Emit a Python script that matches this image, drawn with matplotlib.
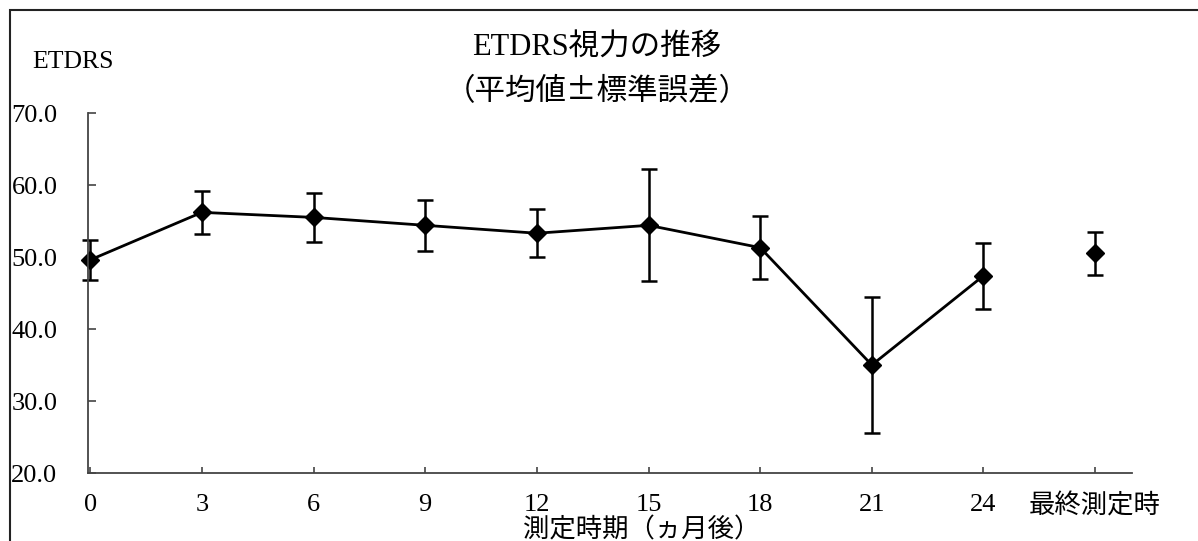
import matplotlib
matplotlib.use('Agg')
import matplotlib.pyplot as plt
from matplotlib.patches import Rectangle

plt.rcParams.update({
    'font.family': ['Liberation Serif', 'Noto Sans CJK JP'],
    'font.size': 19,
})

# Data (mean +/- SE)
labels = ['0', '3', '6', '9', '12', '15', '18', '21', '24', '最終測定時']
means = [49.6, 56.2, 55.5, 54.4, 53.3, 54.4, 51.3, 35.0, 47.4, 50.5]
errors = [2.75, 3.0, 3.4, 3.5, 3.3, 7.8, 4.4, 9.5, 4.6, 3.0]
n_line = 9  # points 0..24 are connected, final point stands alone

fig = plt.figure(figsize=(11.98, 5.41), dpi=100)
# outer frame (cropped chart area)
fig.patches.append(Rectangle((10 / 1198, -0.1), 1.2, 1 - 10 / 541 + 0.1,
                             transform=fig.transFigure, fill=False,
                             edgecolor='#222222', linewidth=1.5))

ax = fig.add_axes([88 / 1198, 1 - 473 / 541, (1132 - 88) / 1198, 360 / 541])
x = list(range(len(labels)))

ax.plot(x[:n_line], means[:n_line], '-', color='black', linewidth=2, clip_on=False)
ax.errorbar(x, means, yerr=errors, fmt='D', color='black', markersize=9.5,
            elinewidth=1.8, capsize=5.5, capthick=1.8, ecolor='black', clip_on=False)

ax.set_xlim(-0.02, 9.33)
ax.set_ylim(20, 70)
yt = [20, 30, 40, 50, 60, 70]
ax.set_yticks(yt)
ax.set_yticklabels([f'{v:.1f}' for v in yt])
ax.set_xticks(x)
ax.set_xticklabels(labels)

for s in ['top', 'right']:
    ax.spines[s].set_visible(False)
for s in ['left', 'bottom']:
    ax.spines[s].set_color('#444444')
    ax.spines[s].set_linewidth(1.3)

ax.tick_params(axis='y', direction='in', length=6, width=1.2, color='#444444', pad=22, labelsize=19)
ax.tick_params(axis='x', direction='in', length=4, width=1.2, color='#444444', pad=15, labelsize=19)

fig.text(642 / 1198, 1 - 516 / 541, '測定時期（ヵ月後）', ha='center', va='top', fontsize=19,
         family=['Noto Sans CJK JP'])

fig.text(597 / 1198, 1 - 48 / 541, 'ETDRS視力の推移', ha='center', va='center', fontsize=22)
fig.text(597 / 1198, 1 - 92 / 541, '（平均値±標準誤差）', ha='center', va='center', fontsize=22,
         family=['Noto Sans CJK JP'])
fig.text(32 / 1198, 1 - 62 / 541, 'ETDRS', ha='left', va='center', fontsize=18.5)

fig.savefig('out.png', dpi=100)
